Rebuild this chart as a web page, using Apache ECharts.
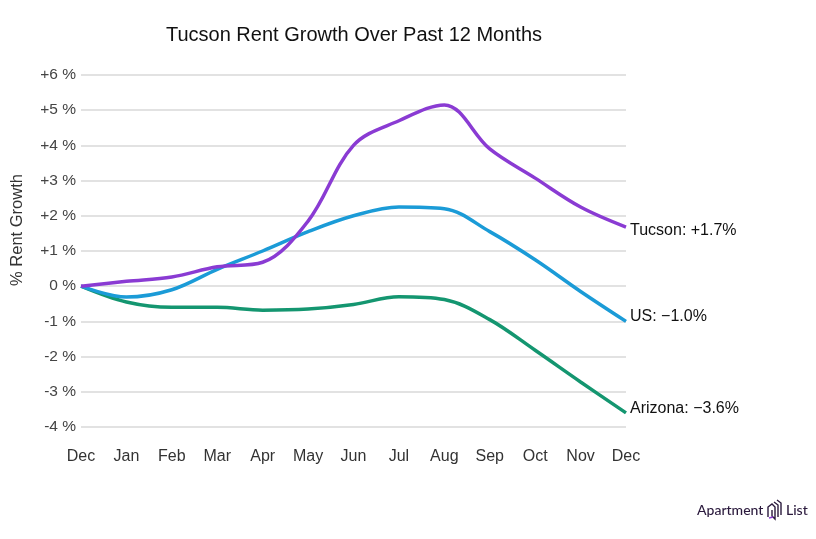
<!DOCTYPE html>
<html><head><meta charset="utf-8">
<script src="https://cdn.jsdelivr.net/npm/echarts@6/dist/echarts.min.js"></script>
<style>html,body{margin:0;padding:0;background:#fff}#c{width:816px;height:539px}</style>
</head><body><div id="c"></div>
<script>
const months = ['Dec','Jan','Feb','Mar','Apr','May','Jun','Jul','Aug','Sep','Oct','Nov','Dec'];
const tucson = [0, 0.14, 0.26, 0.55, 0.68, 1.85, 4.0, 4.7, 5.15, 3.9, 3.07, 2.25, 1.68];
const us = [0, -0.31, -0.1, 0.48, 1.0, 1.55, 2.0, 2.25, 2.2, 1.55, 0.75, -0.15, -1.0];
const arizona = [0, -0.45, -0.6, -0.6, -0.68, -0.65, -0.52, -0.3, -0.38, -0.95, -1.82, -2.72, -3.6];
const endLabels = ['Tucson: +1.7%', 'US: \u22121.0%', 'Arizona: \u22123.6%'];
const colors = ['#8a3bd3', '#1b9bd7', '#149670'];
const labelShift = [4, -5, -4];
const ff = 'Liberation Sans, Arial, sans-serif';

const chart = echarts.init(document.getElementById('c'), null, {renderer:'canvas'});
function mk(name, data, i){
  return {
    name, type:'line', data, smooth:0.35, symbol:'none',
    lineStyle:{width:3.5, color:colors[i]},
    itemStyle:{color:colors[i]},
    endLabel:{show:true, formatter:endLabels[i], color:'#111', fontSize:16, fontFamily:ff, distance:4, offset:[0, labelShift[i]]},
    z: 3 - i
  };
}
const logoC = '#2b1a3d';
chart.setOption({
  animation:false,
  title:{text:'Tucson Rent Growth Over Past 12 Months', left:349, top:20, textAlign:'center',
    textStyle:{fontSize:20, fontWeight:'normal', color:'#111', fontFamily:ff}},
  grid:{left:81, right:190, top:75, bottom:112},
  xAxis:{type:'category', data:months, boundaryGap:false,
    axisLine:{show:false}, axisTick:{show:false}, splitLine:{show:false},
    axisLabel:{color:'#333', fontSize:16, fontFamily:ff, margin:22}},
  yAxis:{type:'value', min:-4, max:6, interval:1,
    axisLabel:{color:'#444', fontSize:15.5, fontFamily:ff, margin:5,
      formatter:v => (v>0?'+':'') + v + ' %'},
    splitLine:{lineStyle:{color:'#d9d9d9', width:1.5}},
    axisLine:{show:false}, axisTick:{show:false}},
  graphic:[
    {type:'text', x:17, y:230, rotation:Math.PI/2, style:{text:'% Rent Growth', fontSize:16.5, fontFamily:ff, fill:'#333', align:'center', verticalAlign:'middle'}},
    {type:'text', x:697, y:510, style:{text:'Apartment', fontSize:14, fontFamily:'Lato, sans-serif', fontWeight:500, fill:logoC, verticalAlign:'middle'}},
    {type:'polyline', shape:{points:[[768,517],[768,507],[772,504],[775,507],[775,519],[772,516],[772,510]]}, style:{stroke:logoC, fill:null, lineWidth:1.4}},
    {type:'polyline', shape:{points:[[774,502],[778,505],[778,517]]}, style:{stroke:logoC, fill:null, lineWidth:1.4}},
    {type:'polyline', shape:{points:[[777,500],[781,503],[781,515]]}, style:{stroke:logoC, fill:null, lineWidth:1.4}},
    {type:'polyline', shape:{points:[[769,518],[773,517]]}, style:{stroke:'#8a3bd3', fill:null, lineWidth:1.5}},
    {type:'text', x:786, y:510, style:{text:'List', fontSize:14, fontFamily:'Lato, sans-serif', fontWeight:500, fill:logoC, verticalAlign:'middle'}}
  ],
  series:[mk('Tucson', tucson, 0), mk('US', us, 1), mk('Arizona', arizona, 2)]
});
</script></body></html>
